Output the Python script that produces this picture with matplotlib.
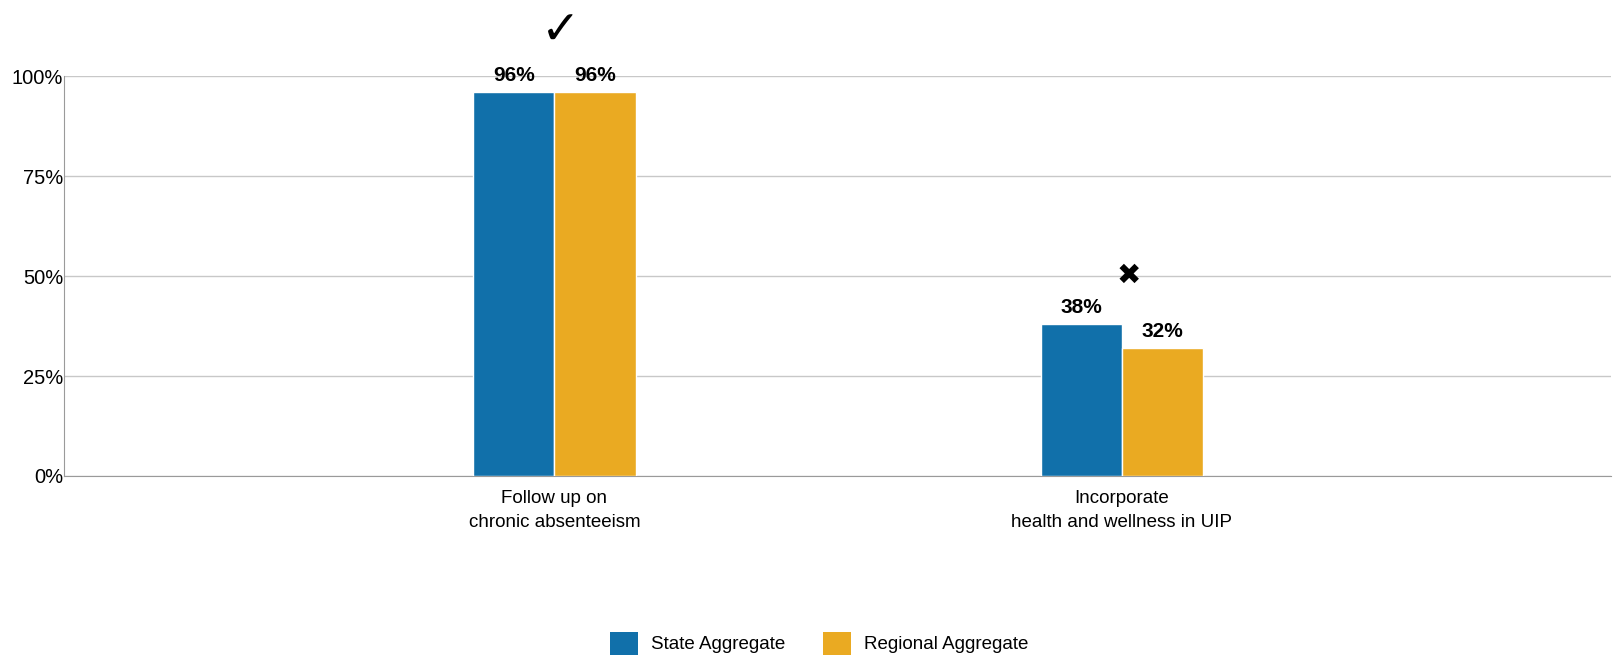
import numpy as np
import matplotlib.pyplot as plt
from matplotlib.patches import Patch

plt.rcParams['font.family'] = ['Liberation Sans', 'DejaVu Sans']

kategorije = ["Follow up on\nchronic absenteeism", "Incorporate\nhealth and wellness in UIP"]
drzava = [96, 38]
regija = [96, 32]
oznake = ["\u2713", "\u2716"]
oznake_y = [111, 50]
serije = ["State Aggregate", "Regional Aggregate"]
barve = ["#1170aa", "#eaaa22"]

fig = plt.figure(figsize=(16.13, 6.57), dpi=100)
ax = fig.add_axes([0.0397, 0.2755, 0.9591, 0.6088])

x = np.arange(len(kategorije))
w = 0.143
ax.bar(x - w / 2, drzava, w, color=barve[0], edgecolor="white", linewidth=1, zorder=3)
ax.bar(x + w / 2, regija, w, color=barve[1], edgecolor="white", linewidth=1, zorder=3)

# vrednosti nad stolpci
for i in range(len(kategorije)):
    ax.text(x[i] - w / 2, drzava[i] + 1.8, f"{drzava[i]}%", ha="center", va="bottom",
            fontsize=15, fontweight="bold", zorder=4)
    ax.text(x[i] + w / 2, regija[i] + 1.8, f"{regija[i]}%", ha="center", va="bottom",
            fontsize=15, fontweight="bold", zorder=4)
    ax.text(x[i] + 0.012, oznake_y[i], oznake[i], ha="center", va="center",
            fontsize=34 if i == 0 else 21,
            family=["DejaVu Sans"], clip_on=False, zorder=4)

ax.set_xlim(-0.864, 1.862)
ax.set_ylim(0, 100)
ax.set_yticks([0, 25, 50, 75, 100])
ax.set_yticklabels(["0%", "25%", "50%", "75%", "100%"], fontsize=14.5)
ax.set_xticks(x)
ax.set_xticklabels(kategorije, fontsize=13.5, linespacing=1.55)
ax.tick_params(axis="both", length=0, pad=0.5)
ax.tick_params(axis="x", pad=10)
ax.grid(axis="y", color="#c8c8c8", linewidth=1, zorder=0)

for s in ["top", "right"]:
    ax.spines[s].set_visible(False)
ax.spines["left"].set_color("#9a9a9a")
ax.spines["bottom"].set_color("#9a9a9a")

ročaji = [Patch(facecolor=barve[0]), Patch(facecolor=barve[1])]
fig.legend(ročaji, serije, loc="center", bbox_to_anchor=(0.508, 0.021), ncol=2,
           frameon=False, fontsize=13.5, handlelength=1.48, handleheight=1.48,
           handletextpad=0.7, columnspacing=2.0)

fig.savefig("out.png", dpi=100)
